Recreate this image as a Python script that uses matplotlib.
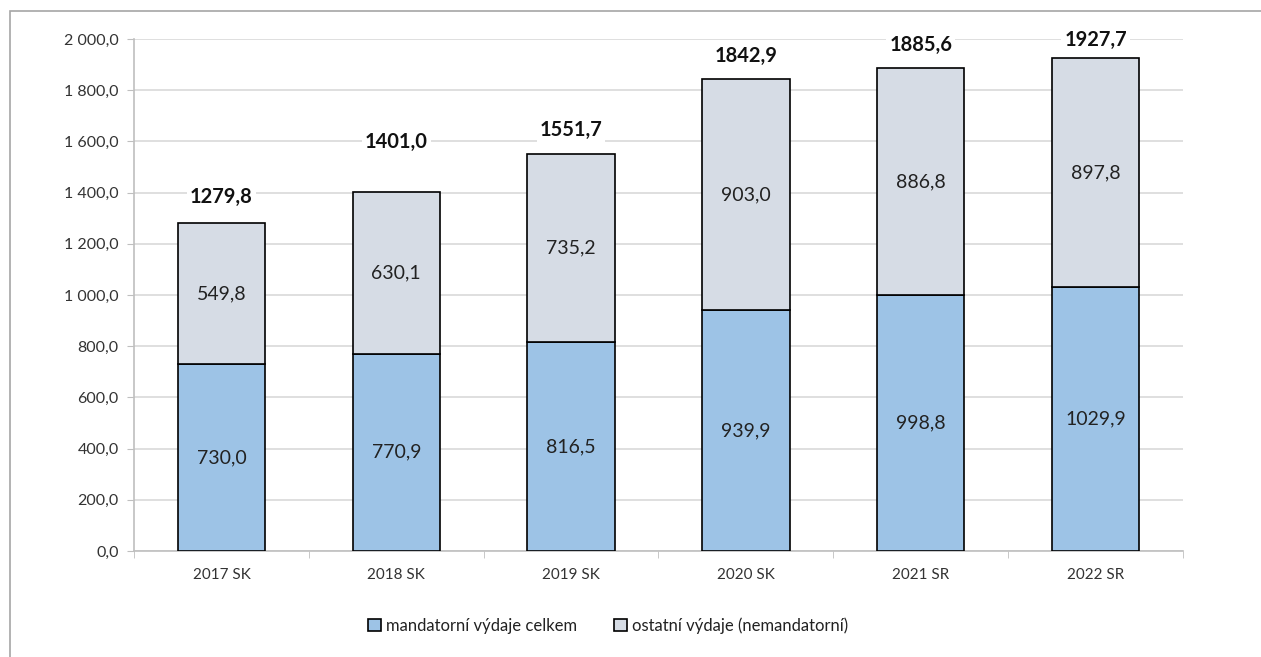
import matplotlib.pyplot as plt
from matplotlib.patches import Rectangle
from matplotlib.ticker import FuncFormatter
import numpy as np

plt.rcParams['font.family'] = ['Lato', 'DejaVu Sans']

categories = ["2017 SK", "2018 SK", "2019 SK", "2020 SK", "2021 SR", "2022 SR"]
mandatory = [730.0, 770.9, 816.5, 939.9, 998.8, 1029.9]
other = [549.8, 630.1, 735.2, 903.0, 886.8, 897.8]
totals = [1279.8, 1401.0, 1551.7, 1842.9, 1885.6, 1927.7]
total_offsets = [19, 36, 17, 17, 17, 13]  # points above the bar top

blue = "#9DC3E6"
grey = "#D6DCE5"


def fmt(v):
    return f"{v:.1f}".replace(".", ",")


def fmt_tick(v, pos):
    s = f"{v:,.1f}"
    return s.replace(",", " ").replace(".", ",")


fig = plt.figure(figsize=(12.61, 6.57), dpi=100)
ax = fig.add_axes([0.1063, 0.1613, 0.8318, 0.7793])

# outer frame of the chart
fig.patches.append(Rectangle((10 / 1261, -0.1), 1.2, 1 - 11 / 657 + 0.1,
                             transform=fig.transFigure, fill=False,
                             edgecolor="#A6A6A6", linewidth=1.2))

x = np.arange(len(categories))
ax.bar(x, mandatory, width=0.5, color=blue, edgecolor="black", linewidth=1.2,
       label="mandatorní výdaje celkem", zorder=3)
ax.bar(x, other, width=0.5, bottom=mandatory, color=grey, edgecolor="black",
       linewidth=1.2, label="ostatní výdaje (nemandatorní)", zorder=3)

for i in range(len(categories)):
    ax.text(x[i], mandatory[i] / 2, fmt(mandatory[i]), ha="center", va="center",
            fontsize=14, color="#222222", zorder=4)
    ax.text(x[i], mandatory[i] + other[i] / 2, fmt(other[i]), ha="center",
            va="center", fontsize=14, color="#222222", zorder=4)
    ax.annotate(fmt(totals[i]), (x[i], totals[i]), xytext=(0, total_offsets[i]),
                textcoords="offset points", ha="center", va="center",
                fontsize=14.5, fontweight="bold", color="#111111", zorder=4,
                bbox=dict(facecolor="white", edgecolor="none", pad=2))

ax.set_xlim(-0.5, len(categories) - 0.5)
ax.set_ylim(0, 2000)
ax.set_yticks(np.arange(0, 2001, 200))
ax.yaxis.set_major_formatter(FuncFormatter(fmt_tick))
ax.set_xticks(x)
ax.set_xticklabels(categories)
ax.set_xticks(np.arange(-0.5, len(categories), 1), minor=True)
ax.tick_params(axis="x", which="major", length=0, pad=12, labelsize=11,
               labelcolor="#333333")
ax.tick_params(axis="x", which="minor", length=5, color="#BFBFBF")
ax.tick_params(axis="y", length=5, color="#BFBFBF", labelsize=11.5,
               labelcolor="#333333", pad=6)

ax.grid(axis="y", color="#D9D9D9", linewidth=1.2, zorder=0)
for side in ["top", "right"]:
    ax.spines[side].set_visible(False)
for side in ["left", "bottom"]:
    ax.spines[side].set_color("#BFBFBF")
    ax.spines[side].set_linewidth(1.2)

ax.legend(loc="upper center", bbox_to_anchor=(0.452, -0.1), ncol=2, frameon=False,
          fontsize=12, handlelength=0.8, handleheight=0.8, handletextpad=0.3,
          columnspacing=2.2, labelcolor="#222222")

fig.savefig("out.png", dpi=100)
